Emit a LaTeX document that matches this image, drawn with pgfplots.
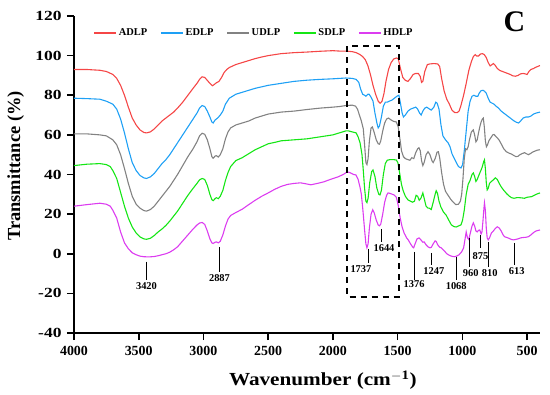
\documentclass[border=0pt]{standalone}
\usepackage{pgfplots}
\pgfplotsset{compat=1.18}
\usepackage{pgfplotstable}
\usepackage{fontspec}
\setmainfont{Liberation Serif}
\definecolor{cA}{RGB}{245,70,70}
\definecolor{cE}{RGB}{30,160,245}
\definecolor{cU}{RGB}{130,130,130}
\definecolor{cS}{RGB}{20,230,20}
\definecolor{cH}{RGB}{220,60,240}
\pgfplotsset{
  mylegline/.style={legend image code/.code={\draw[##1, line width=1.3pt] (0bp,0bp) -- (22bp,0bp);}},
}
\pgfplotstableread{
x y
4000 93
3900 93
3800 92.6
3750 92
3700 90.5
3670 88.5
3640 85
3610 80
3580 74
3550 68.5
3520 65
3490 62.5
3460 61.2
3440 61
3410 61.5
3380 63
3350 65
3320 67
3290 68.5
3260 70
3230 71.5
3200 73.5
3160 76.5
3120 80
3080 83.5
3050 86
3030 88
3010 89.3
2990 89
2970 87.5
2950 86
2930 84.8
2915 85.5
2900 86.3
2880 87
2860 89
2840 91.5
2820 93
2800 94
2750 95.5
2700 96.5
2650 97.5
2600 98.5
2550 99.3
2500 100
2450 100.5
2400 101
2300 101.5
2200 101.8
2100 102.2
2000 102.5
1950 102.3
1900 102.3
1850 102
1820 101.5
1790 100.5
1770 99.5
1750 98
1730 95
1710 90.5
1690 85
1670 80.5
1650 77
1635 76
1620 77
1605 81
1590 87
1570 93
1550 96.5
1530 98.3
1510 98.8
1495 98.5
1480 94
1460 89
1440 87.5
1420 87
1400 88.5
1380 90.5
1360 91
1340 91
1325 89.5
1315 86.5
1305 87
1290 92
1270 95.5
1250 95.8
1220 96
1190 95.8
1175 94.5
1160 88.5
1140 82
1120 78
1100 75.5
1080 72.5
1060 71.3
1040 71.2
1025 72
1010 75
990 80
970 86
950 92.5
930 97
915 99.5
900 100.5
890 99.8
875 99.8
860 100.8
845 101
830 100.5
815 99
800 96.5
785 94.8
770 95.5
760 96
745 95
730 93.5
710 92.5
690 92
670 91.5
650 91
630 90.5
610 89.8
590 89.6
570 90
550 90.8
530 91
515 90.8
500 90.5
485 92
470 93
450 93.5
430 94.2
400 95
}\tA
\pgfplotstableread{
x y
4000 78.5
3900 78.3
3800 78
3750 77
3700 75.5
3670 73
3640 68
3610 61
3580 53
3550 46
3520 42
3490 39.5
3460 38.3
3440 38
3410 38.8
3380 40.5
3350 43
3320 45.5
3290 47.5
3260 50
3230 53
3200 56
3160 60
3120 64
3080 68
3050 71
3030 73.5
3010 74.8
2990 74.3
2970 72
2950 69
2935 66.5
2925 66
2910 67.5
2890 68.5
2870 70
2850 72
2830 75.5
2800 78.5
2750 80.5
2700 81.5
2650 82.5
2600 83.5
2500 85
2400 86
2300 87
2200 87.6
2100 88
2000 88.3
1950 88.5
1900 88.7
1850 88.5
1820 88
1800 86.5
1785 83
1770 80.5
1755 80
1745 79.5
1730 80.5
1720 80.5
1705 79
1690 77
1675 71
1660 66
1650 63.5
1640 64.5
1625 69
1610 74.5
1595 76.5
1580 76.5
1565 77
1545 77.5
1525 78.5
1505 79.5
1490 80
1478 76
1465 71
1455 69
1440 70
1420 72
1400 73
1380 73.5
1360 74
1345 73
1330 71
1318 70
1305 72
1290 73.5
1275 74
1260 73.3
1240 72.5
1220 74
1205 76.5
1195 76
1180 73
1165 65
1150 59.5
1130 57.5
1110 56
1095 54
1080 50.5
1065 48.5
1050 46.5
1030 44
1010 43.3
998 45
985 52
970 62
955 72
940 77
925 79.5
910 80
895 79.5
880 79.5
870 81
855 82.3
840 82.5
828 82
815 81
800 78.5
785 76.5
770 76
755 75.5
740 74.5
720 73.5
700 72
680 71
660 70
640 69
620 68
600 67
580 66.3
565 66
550 67
530 68.5
510 69
490 69
470 69.5
450 70.5
430 71
400 71.5
}\tE
\pgfplotstableread{
x y
4000 60.5
3900 60.5
3800 60
3750 59.5
3700 57.5
3670 55
3640 50
3610 43
3580 35.5
3550 29
3520 25
3490 23
3460 21.8
3440 21.5
3410 22.3
3380 24
3350 26.5
3320 29
3290 31.5
3260 34
3230 37
3200 40
3160 44.5
3120 49
3080 53
3050 56.5
3030 59.5
3010 60.8
2990 60.3
2970 57.5
2950 53
2935 49
2925 48.2
2910 49.3
2900 49.5
2885 48.8
2870 50
2850 53
2830 58
2810 61.5
2790 63.5
2750 65
2700 66
2650 67
2600 68.5
2550 69.5
2500 70.5
2400 71.5
2300 72
2200 72.8
2100 73.5
2000 74
1950 74.3
1900 74.8
1850 75
1825 74.5
1810 73
1795 70
1780 67
1765 63
1755 55
1745 46
1737 45
1728 48
1718 57
1705 63.5
1695 64
1680 61
1665 57.5
1650 55.5
1640 55.3
1630 57
1615 62
1600 66
1585 68
1570 68.5
1550 67.5
1530 66.8
1510 66.5
1495 64
1480 57
1470 52
1455 49
1440 48
1420 47.5
1405 47.2
1390 48.5
1375 48
1360 51
1345 53
1335 53.5
1325 52
1315 47
1305 44.5
1295 46
1280 50
1265 51.5
1250 50
1235 47
1225 46
1210 48
1195 51.3
1185 51.5
1175 48.5
1160 41
1145 35
1130 31.5
1110 29.5
1090 27.5
1070 26
1050 24.8
1030 25
1015 26.5
1005 30
995 38
985 48
975 53
965 52.5
955 54
945 57.5
930 61.5
915 62.5
905 60
895 56.5
885 57.5
875 61
865 64
855 66.5
845 68
838 68.5
830 64
822 57
814 54
805 55
795 57
780 58.5
765 60
755 60.2
745 59.5
730 58.5
715 57.3
700 55.5
680 53
660 51.5
640 50.8
620 50.3
600 49.5
585 49
570 49.2
555 50
540 50.5
520 51
505 50.5
490 50
475 50.5
460 51.2
440 51.8
420 52.3
400 52.5
}\tU
\pgfplotstableread{
x y
4000 44.5
3900 45.2
3800 45.5
3750 45
3720 44
3700 42
3670 38
3640 31
3610 24
3580 18
3550 13.5
3520 10.5
3490 8.5
3460 7.5
3440 7.3
3410 7.8
3380 9.2
3350 11
3320 12.5
3290 14.3
3260 16.5
3230 19
3200 21.5
3160 25.5
3120 29.5
3080 33
3050 35.5
3030 37.3
3010 38
2990 37.5
2970 34.5
2950 30
2935 27.3
2925 26.8
2910 27.8
2900 28.3
2885 27.8
2870 29
2850 32
2830 37
2810 41
2790 44
2750 47
2700 48.5
2650 50.5
2600 52.5
2550 54
2500 55.5
2450 56.2
2400 57
2300 57.5
2200 58
2100 59
2000 60
1950 61
1900 62
1880 62
1850 61.5
1820 61
1805 59
1790 56
1775 50
1765 42
1755 33
1745 26.5
1737 25.8
1728 28
1715 36
1700 41.5
1690 42.3
1675 39
1660 33
1645 30
1636 29.7
1625 32
1610 40
1595 45.5
1580 47.2
1560 47.5
1530 47.5
1510 47.3
1498 46
1485 41
1470 35
1458 32
1440 29
1420 27.2
1400 26.5
1385 26
1370 26.5
1357 29.5
1345 29
1333 27
1320 28
1305 30.7
1295 28
1280 24
1265 23
1255 23
1240 22.3
1225 26
1210 30
1202 31.8
1192 30.5
1180 26.5
1165 23.5
1145 21
1125 19.5
1105 17
1085 14.6
1065 13.7
1047 13.5
1030 14
1010 14.6
998 17
985 22
970 30
955 35
940 37
925 40
915 40.8
905 39
895 36.5
885 37.5
870 40
855 42.3
845 44
835 46.5
829 47.4
822 43
815 36
808 32.2
800 33
790 35.5
775 36.5
760 37.3
745 38.3
730 37.5
715 35.5
700 33.8
682 32.2
660 30.5
640 29.2
620 28.3
600 28
580 28.3
560 28.3
543 28.2
520 28
500 28.5
480 28.7
465 28.8
450 29.3
430 30
400 30.7
}\tS
\pgfplotstableread{
x y
4000 24
3900 24.8
3800 25.5
3750 25
3720 24
3700 22
3670 18
3640 11
3610 5.5
3580 2.5
3550 0.5
3520 -0.5
3490 -1.2
3460 -1.5
3420 -1.6
3380 -1.4
3350 -1
3320 -0.5
3290 0
3260 0.8
3230 2
3200 3.5
3160 6.5
3120 9.5
3080 12.5
3050 14.5
3030 15.5
3010 15.8
2990 14.8
2970 11.5
2950 7.5
2935 5.5
2925 5.2
2910 5.8
2900 6
2885 5.5
2870 6.3
2850 9.5
2830 14
2810 17.5
2790 19.3
2750 20.8
2700 22.5
2650 24.8
2600 27
2550 29
2500 30.7
2450 32.5
2400 34
2350 35
2300 35.5
2250 35.8
2200 35.2
2170 34.8
2120 35.5
2070 36.3
2020 37.5
1960 38.8
1920 40
1890 41.3
1870 41
1840 40
1822 39.8
1805 37.5
1790 33.5
1780 30
1768 22
1755 12
1745 5
1737 3
1728 5
1718 13
1705 20
1692 22.2
1680 20.5
1665 17
1650 14.5
1640 14.1
1630 15
1615 20
1600 26
1585 29.5
1574 30.7
1560 30.5
1540 30
1527 29.7
1510 28.5
1496 24.7
1480 18
1465 13.5
1450 10.5
1430 8
1418 7
1400 5
1385 3.5
1376 3
1365 5
1350 7.5
1335 8
1320 7
1305 5.8
1295 6
1280 4.5
1265 3.5
1250 3
1240 3.2
1225 5
1210 6.5
1202 6.2
1190 4.5
1175 3.3
1163 3
1140 1.5
1120 0
1100 -0.8
1080 -1.3
1062 -1.5
1045 -1.2
1025 -0.5
1005 1
990 3
980 7
970 11
960 8
950 7.2
940 10
925 14
915 15.6
905 14
895 11.5
885 11
875 11.8
865 12
855 10
848 11
840 17
833 23
829 25.7
822 22
815 13
808 8
800 7
790 8
775 10.5
760 11.5
745 12.8
730 13.6
715 13
700 11.5
685 9.5
674 8.6
660 8.3
640 7.8
620 7.2
605 7
590 7.2
570 7.5
550 8
530 8.2
510 8.3
490 8.6
470 9.5
450 10.7
430 11.5
400 12
}\tH
\begin{document}
\begin{tikzpicture}
\path[use as bounding box] (-74bp,-62bp) rectangle (476bp,333bp);
\begin{axis}[
  at={(0,0)}, anchor=south west,
  scale only axis, width=466bp, height=317bp,
  xmin=400, xmax=4000, ymin=-40, ymax=120,
  x dir=reverse,
  axis lines*=left,
  axis line style={line width=1.6pt},
  every tick/.style={black, line width=1.6pt},
  major tick length=7bp,
  tick align=outside,
  xtick={500,1000,...,4000},
  ytick={-40,-20,...,120},
  /pgf/number format/assume math mode=true,
  /pgf/number format/set thousands separator={},
  tick label style={font=\fontsize{14}{16}\selectfont\bfseries},
  yticklabel={\scalebox{1.25}[1]{\pgfmathprintnumber{\tick}}},
  xticklabel style={yshift=-3bp},
  yticklabel style={xshift=-2bp},
  xlabel={\scalebox{1.15}[1]{Wavenumber (cm$^{\mathbf{-1}}$)}},
  ylabel={Transmittance (\%)},
  xlabel style={font=\fontsize{18.5}{20}\selectfont\bfseries, at={(axis description cs:0.534,-0.148)}, anchor=center},
  ylabel style={font=\fontsize{18.5}{20}\selectfont\bfseries, at={(axis description cs:-0.125,0.527)}, anchor=center},
  clip=false,
  legend columns=5,
  mylegline,
  legend style={at={(axis description cs:0.035,0.946)}, anchor=west, draw=none, fill=none,
    font=\fontsize{10.5}{12}\selectfont\bfseries,
    /tikz/every even column/.append style={column sep=11bp}},
  every axis plot/.append style={line width=1.1pt},
]
\addplot[cA] table[x=x,y=y]{\tA};
\addplot[cE] table[x=x,y=y]{\tE};
\addplot[cU] table[x=x,y=y]{\tU};
\addplot[cS] table[x=x,y=y]{\tS};
\addplot[cH] table[x=x,y=y]{\tH};
\legend{ADLP,EDLP,UDLP,SDLP,HDLP}
\draw[black, line width=2pt, dash pattern=on 6bp off 5bp] (axis cs:1890,104.8) rectangle (axis cs:1490,-21.6);
\node[font=\fontsize{30}{32}\selectfont\bfseries] at (axis cs:597,117) {C};
\begin{scope}[every node/.style={font=\fontsize{10.5}{12}\selectfont\bfseries, inner sep=1pt}]
\draw[line width=0.9pt] (axis cs:3440,-4) -- (axis cs:3440,-13);
\node at (axis cs:3440,-16.5) {3420};
\draw[line width=0.9pt] (axis cs:2876,3.5) -- (axis cs:2876,-9);
\node at (axis cs:2876,-12.5) {2887};
\draw[line width=0.9pt] (axis cs:1729,2.5) -- (axis cs:1729,-4.5);
\node at (axis cs:1783,-7.8) {1737};
\draw[line width=0.9pt] (axis cs:1628,12.6) -- (axis cs:1628,6);
\node at (axis cs:1605,2.8) {1644};
\draw[line width=0.9pt] (axis cs:1372,1) -- (axis cs:1372,-13);
\node at (axis cs:1372,-15.5) {1376};
\draw[line width=0.9pt] (axis cs:1240,0.5) -- (axis cs:1240,-5.5);
\node at (axis cs:1220,-8.7) {1247};
\draw[line width=0.9pt] (axis cs:1047,-1.5) -- (axis cs:1047,-13);
\node at (axis cs:1047,-16.3) {1068};
\draw[line width=0.9pt] (axis cs:946,8) -- (axis cs:946,-6.5);
\node at (axis cs:935,-9.7) {960};
\draw[line width=0.9pt] (axis cs:860,9.6) -- (axis cs:860,3);
\node at (axis cs:860,-1) {875};
\draw[line width=0.9pt] (axis cs:798,6) -- (axis cs:798,-6.5);
\node at (axis cs:788,-9.7) {810};
\draw[line width=0.9pt] (axis cs:597,5.5) -- (axis cs:597,-5.5);
\node at (axis cs:580,-8.7) {613};
\end{scope}
\end{axis}
\end{tikzpicture}
\end{document}
